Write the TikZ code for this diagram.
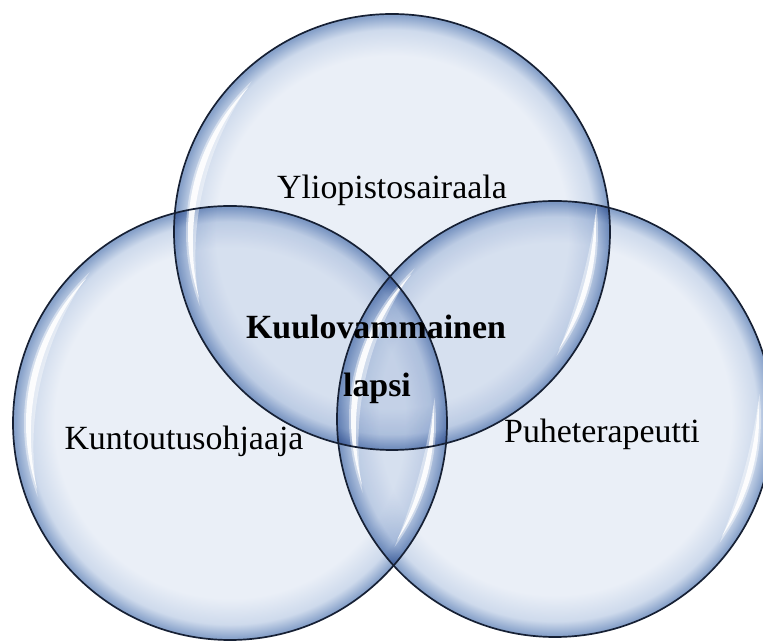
\documentclass[tikz,border=0pt]{standalone}
\usepackage{fontspec}
\setmainfont{Liberation Serif}
\definecolor{gin}{RGB}{234,239,247}
\definecolor{gmid}{RGB}{206,218,236}
\definecolor{gout}{RGB}{136,162,202}
\definecolor{rimline}{RGB}{22,32,52}
\pgfdeclareradialshading{glass}{\pgfpoint{0bp}{0bp}}{color(0bp)=(gin); color(20.2bp)=(gin); color(23.2bp)=(gmid); color(24.8bp)=(gout); color(25bp)=(gout); color(50bp)=(gout)}
\tikzset{
  glassfill/.style={shading=glass, blend mode=multiply},
  rim/.style={draw=rimline, line width=1.7},
  lbl/.style={font=\fontsize{34}{40}\selectfont, text=black, inner sep=0, anchor=base},
  lblb/.style={lbl, font=\fontsize{34}{40}\selectfont\bfseries}
}
% crescent highlight: #1 centre, #2 outer radius, #3 mid angle, #4 half span, #5 inner radius, #6 inner half span, #7 opacity
\newcommand\mycrescent[7]{%
  \fill[white, opacity=#7] ([shift={(#3-#4:#2)}]#1)
    arc[start angle=#3-#4, end angle=#3+#4, radius=#2]
    arc[start angle=#3+#6, end angle=#3-#6, radius=#5] -- cycle;
}
\newcommand\myhighlights[1]{%
  \mycrescent{#1}{206}{167}{34}{298}{22.7}{0.4}
  \mycrescent{#1}{204}{167}{32.1}{246}{26.1}{0.9}
  \mycrescent{#1}{206}{-15}{22}{600}{7.4}{0.4}
  \mycrescent{#1}{204}{-15}{19.9}{339}{11.8}{0.9}
}
\begin{document}
\begin{tikzpicture}[x=1bp,y=1bp]
\useasboundingbox (0,0) rectangle (763,642);
\fill[white] (0,0) rectangle (763,642);
\coordinate (ctop) at (392,410);
\coordinate (cleft) at (230,219);
\coordinate (cright) at (555,223);
% glass bodies
\shade[glassfill] (ctop) circle[radius=218];
\shade[glassfill] (cleft) circle[radius=217];
\shade[glassfill] (cright) circle[radius=218];
% highlights
\myhighlights{ctop}
\myhighlights{cleft}
\myhighlights{cright}
% outlines
\draw[rim] (ctop) circle[radius=218];
\draw[rim] (cleft) circle[radius=217];
\draw[rim] (cright) circle[radius=218];
% labels
\node[lbl] (yl) at (392,443) {Yliopistosairaala};
\node[lbl] (ku) at (184,192) {Kuntoutusohjaaja};
\node[lbl] (pu) at (602,199) {Puheterapeutti};
\node[lblb] (kv) at (376,303) {Kuulovammainen};
\node[lblb] (la) at (377,245) {lapsi};
\end{tikzpicture}
\end{document}
